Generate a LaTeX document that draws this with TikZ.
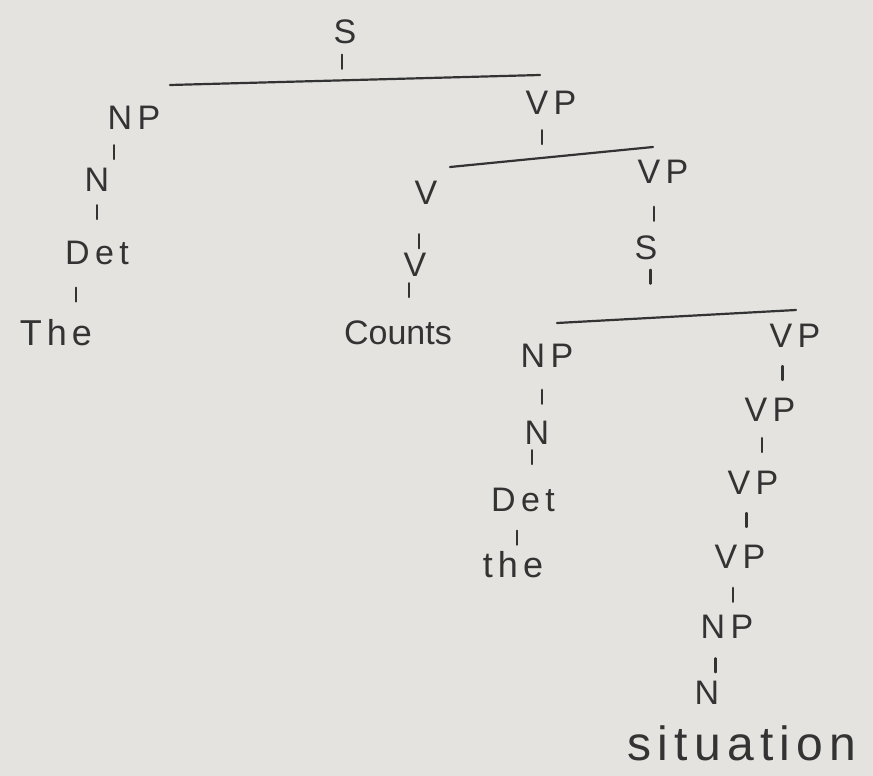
\documentclass[tikz,border=0pt]{standalone}
\usepackage{fontspec}
\setmainfont{Liberation Sans}
\usetikzlibrary{calc}
\definecolor{paper}{HTML}{E4E3DF}
\definecolor{ink}{HTML}{333333}
\newcommand{\labfont}{\fontsize{34}{40}\selectfont\addfontfeature{LetterSpace=16}}
\newcommand{\wordfont}{\fontsize{36}{42}\selectfont\addfontfeature{LetterSpace=14}}
\newcommand{\treetick}[3][0.5]{\draw[tickline] ($(#2)!#1!(#3)$) +(0,-7) -- +(0,7);}
\tikzset{
  lab/.style={font=\labfont, text=ink, inner sep=0pt},
  word/.style={font=\wordfont, text=ink, inner sep=0pt},
  barline/.style={draw=ink, line width=2.2pt, line cap=round},
  tickline/.style={draw=ink, line width=2.2pt, line cap=round}
}
\begin{document}
\begin{tikzpicture}[x=1pt,y=-1pt]
\fill[paper] (0,0) rectangle (873,776);
\useasboundingbox (0,0) rectangle (873,776);
% nodes
\node[lab] (S) at (345,32) {S};
\node[lab] (NP1) at (134,118) {NP};
\node[lab] (VP1) at (551,103) {VP};
\node[lab] (N1) at (97,180) {N};
\node[lab] (V1) at (426,193) {V};
\node[lab] (VP2) at (663,172) {VP};
\node[lab] (Det1) at (97,253) {Det};
\node[lab] (V1b) at (415,265) {V};
\node[lab] (S2) at (646,248) {S};
\node[word] (The) at (56,333) {The};
\node[word,font=\fontsize{34}{40}\selectfont] (Counts) at (398,333) {Counts};
\node[lab] (NP2) at (547,356) {NP};
\node[lab] (VP3) at (795,336) {VP};
\node[lab] (N2) at (537,433) {N};
\node[lab] (VP4) at (770,410) {VP};
\node[lab] (Det2) at (523,500) {Det};
\node[lab] (VP5) at (753,483) {VP};
\node[word] (the2) at (513,565) {the};
\node[lab] (VP6) at (740,557) {VP};
\node[lab] (NP3) at (727,627) {NP};
\node[lab] (N3) at (707,693) {N};
\node[word,font=\fontsize{48}{54}\selectfont\addfontfeature{LetterSpace=13}] (sit) at (742,743) {situation};
% bars
\coordinate (b1l) at (170,85);
\coordinate (b1r) at (540,75);
\coordinate (b1m) at (340,80);
\coordinate (b2l) at (450,167);
\coordinate (b2r) at (653,147);
\coordinate (b2m) at (537,158);
\coordinate (b3l) at (557,323);
\coordinate (b3r) at (796,310);
\coordinate (b3m) at (657,318);
\draw[barline] (b1l) -- (b1r);
\draw[barline] (b2l) -- (b2r);
\draw[barline] (b3l) -- (b3r);
% ticks
\treetick[0.62]{S}{b1m}
\treetick[0.55]{NP1}{N1}
\treetick[0.44]{N1}{Det1}
\treetick[0.52]{Det1}{The}
\treetick[0.62]{VP1}{b2m}
\treetick[0.67]{V1}{V1b}
\treetick[0.37]{V1b}{Counts}
\treetick[0.55]{VP2}{S2}
\treetick[0.41]{S2}{b3m}
\treetick[0.53]{NP2}{N2}
\treetick[0.36]{N2}{Det2}
\treetick[0.58]{Det2}{the2}
\treetick[0.5]{VP3}{VP4}
\treetick[0.48]{VP4}{VP5}
\treetick[0.5]{VP5}{VP6}
\treetick[0.54]{VP6}{NP3}
\treetick[0.58]{NP3}{N3}
\end{tikzpicture}
\end{document}
